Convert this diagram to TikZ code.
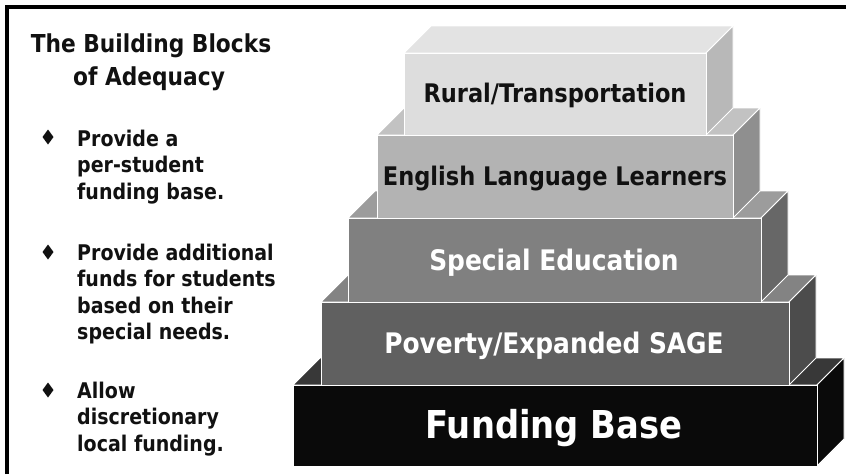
\documentclass[tikz,border=0pt]{standalone}
\usepackage{fontspec}
\newfontfamily\blkfont{DejaVu Sans}[FakeStretch=0.88]
\newcommand\stackblock[7]{%
  \draw[face, fill=#6] (#1,#2) -- (#1+27,#2-27) -- (#3+27,#2-27) -- (#3,#2) -- cycle;
  \draw[face, fill=#7] (#3,#2) -- (#3+27,#2-27) -- (#3+27,#4-27) -- (#3,#4) -- cycle;
  \draw[face, fill=#5] (#1,#2) rectangle (#3,#4);
}
\definecolor{fundfront}{HTML}{0A0A0A}
\definecolor{fundtop}{HTML}{383838}
\definecolor{fundside}{HTML}{0A0A0A}
\definecolor{povfront}{HTML}{606060}
\definecolor{povtop}{HTML}{838383}
\definecolor{povside}{HTML}{4C4C4C}
\definecolor{spfront}{HTML}{808080}
\definecolor{sptop}{HTML}{9C9C9C}
\definecolor{spside}{HTML}{676767}
\definecolor{enfront}{HTML}{B3B3B3}
\definecolor{entop}{HTML}{C2C2C2}
\definecolor{enside}{HTML}{8F8F8F}
\definecolor{rufront}{HTML}{DDDDDD}
\definecolor{rutop}{HTML}{E3E3E3}
\definecolor{ruside}{HTML}{B8B8B8}
\definecolor{ink}{HTML}{111111}
\tikzset{
  face/.style={draw=white, line width=0.9pt, line join=miter},
  blocktext/.style={font=\blkfont\bfseries\fontsize{25.6}{30}\selectfont, anchor=base, inner sep=0pt},
  bigblocktext/.style={font=\blkfont\bfseries\fontsize{28.3}{34}\selectfont, anchor=base, inner sep=0pt},
  basetext/.style={font=\blkfont\bfseries\fontsize{38.4}{46}\selectfont, anchor=base, inner sep=0pt, text=white},
  listtext/.style={font=\blkfont\bfseries\fontsize{21.6}{26}\selectfont, anchor=base west, inner sep=0pt, text=ink},
  titletext/.style={font=\blkfont\bfseries\fontsize{24.7}{30}\selectfont, anchor=base, inner sep=0pt, text=ink},
  bulletmark/.style={fill=ink},
  frame/.style={line width=3.5pt, black}
}
\begin{document}
\begin{tikzpicture}[x=1pt, y=-1pt]
\useasboundingbox (0,0) rectangle (846,474);
\fill[white] (0,0) rectangle (846,474);
% frame
\draw[frame] (7,474) -- (7,7) -- (846,7);
% blocks, bottom to top
\stackblock{293}{385}{817}{466}{fundfront}{fundtop}{fundside}
\stackblock{321}{302}{789}{385}{povfront}{povtop}{povside}
\stackblock{348}{218}{761}{302}{spfront}{sptop}{spside}
\stackblock{377}{135}{733}{218}{enfront}{entop}{enside}
\stackblock{404}{53}{706}{135}{rufront}{rutop}{ruside}
% block labels
\node[blocktext, text=ink] (rural) at (555,102) {Rural/Transportation};
\node[blocktext, text=ink] (ell) at (555,185) {English Language Learners};
\node[bigblocktext, text=white] (sped) at (554,270) {Special Education};
\node[bigblocktext, text=white] (pov) at (554,353) {Poverty/Expanded SAGE};
\node[basetext] (fund) at (554,438) {Funding Base};
% title
\node[titletext] (title1) at (151,52) {The Building Blocks};
\node[titletext] (title2) at (149,85) {of Adequacy};
% bullets
\fill[bulletmark] (48,129.5) -- (53.5,137) -- (48,144.5) -- (42.5,137) -- cycle;
\node[listtext] (b1a) at (77,146) {Provide a};
\node[listtext] (b1b) at (77,172.5) {per-student};
\node[listtext] (b1c) at (77,199) {funding base.};
\fill[bulletmark] (48,244.5) -- (53.5,252) -- (48,259.5) -- (42.5,252) -- cycle;
\node[listtext] (b2a) at (77,260) {Provide additional};
\node[listtext] (b2b) at (77,286.5) {funds for students};
\node[listtext] (b2c) at (77,313) {based on their};
\node[listtext] (b2d) at (77,339.5) {special needs.};
\fill[bulletmark] (48,382.5) -- (53.5,390) -- (48,397.5) -- (42.5,390) -- cycle;
\node[listtext] (b3a) at (77,398) {Allow};
\node[listtext] (b3b) at (77,424.5) {discretionary};
\node[listtext] (b3c) at (77,451) {local funding.};
\end{tikzpicture}
\end{document}
